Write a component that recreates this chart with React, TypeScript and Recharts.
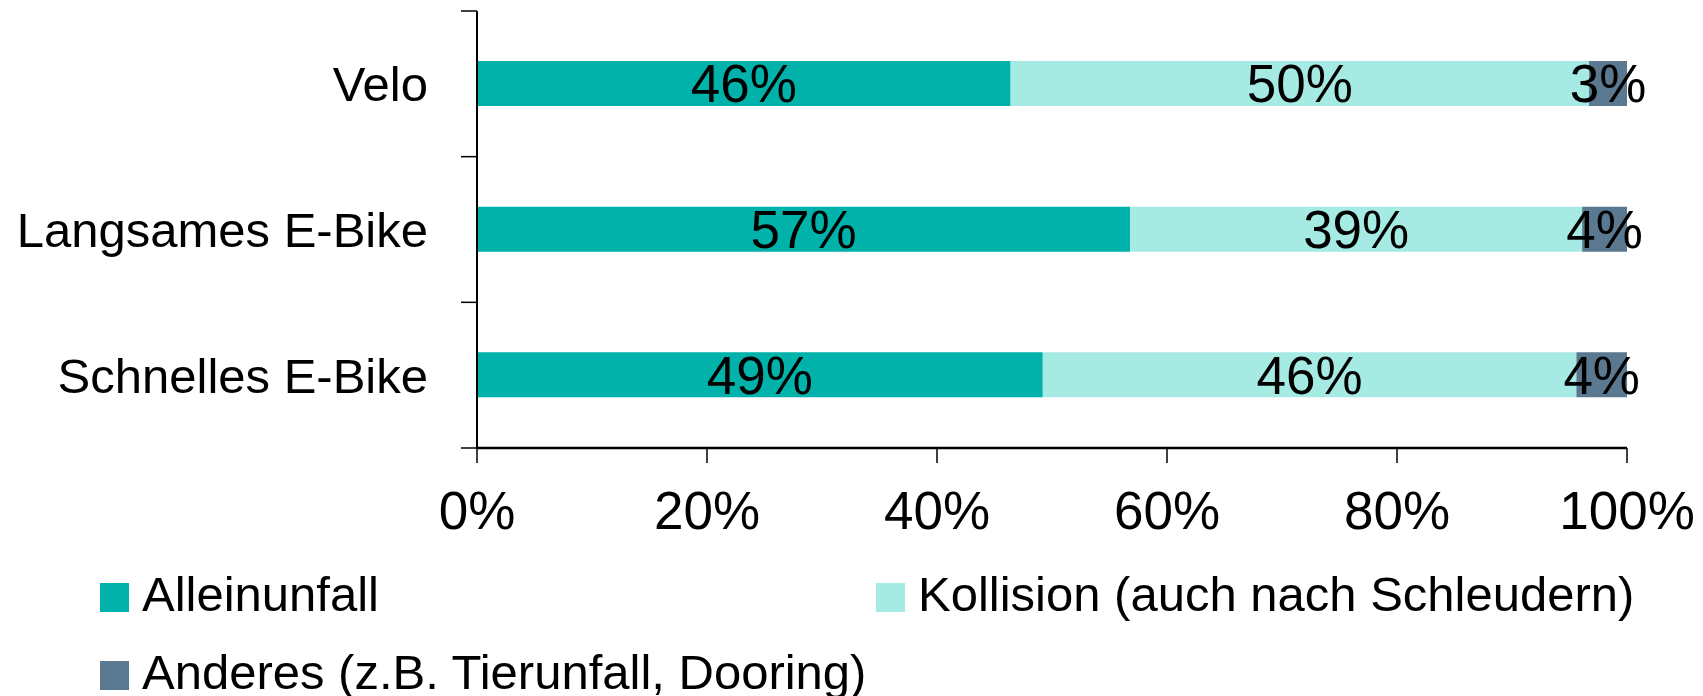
import React from "react";
import { BarChart, Bar, XAxis, YAxis, LabelList } from "recharts";

const categories = ["Velo", "Langsames E-Bike", "Schnelles E-Bike"];
const alleinunfall = [46.4, 56.8, 49.2];
const kollision = [50.3, 39.3, 46.4];
const anderes = [3.3, 3.9, 4.4];
const seriesNames = [
  "Alleinunfall",
  "Kollision (auch nach Schleudern)",
  "Anderes (z.B. Tierunfall, Dooring)",
];
const seriesKeys = ["a", "k", "o"];
const seriesColors = ["#00B2A9", "#A6EAE4", "#5B7891"];
const xTicks = [0, 20, 40, 60, 80, 100];

const data = categories.map((c, i) => ({
  name: c,
  a: alleinunfall[i],
  k: kollision[i],
  o: anderes[i],
}));

const FONT = "'Liberation Sans', Arial, sans-serif";

const YTick = (props: any) => {
  const { x, y, payload, index } = props;
  const half = payload && payload.offset ? payload.offset : 72.8;
  const axisX = x + 49;
  const n = categories.length;
  return (
    <g>
      <line x1={axisX - 16} x2={axisX} y1={y - half} y2={y - half} stroke="#000" strokeWidth={1.5} />
      {index === n - 1 && (
        <line x1={axisX - 16} x2={axisX} y1={y + half} y2={y + half} stroke="#000" strokeWidth={1.5} />
      )}
      <text x={x} y={y} dy="0.355em" textAnchor="end" fontSize={49} fontFamily={FONT} fill="#000">
        {payload.value}
      </text>
    </g>
  );
};

const fmt = (v: any) => `${Math.round(Number(v))}%`;

export default function App() {
  return (
    <div style={{ position: "absolute", left: 0, top: 0, width: 1703, height: 696, background: "#fff", overflow: "hidden" }}>
      <BarChart
        width={1703}
        height={696}
        data={data}
        layout="vertical"
        margin={{ top: 11, right: 76, bottom: 0, left: 0 }}
        barCategoryGap={0}
      >
        <XAxis
          type="number"
          domain={[0, 100]}
          ticks={xTicks}
          tickFormatter={(v: number) => `${v}%`}
          height={248}
          tickSize={15}
          tickMargin={28}
          axisLine={{ stroke: "#000", strokeWidth: 2.5 }}
          tickLine={{ stroke: "#000", strokeWidth: 1.5 }}
          tick={{ fill: "#000", fontSize: 53, fontFamily: FONT }}
          interval={0}
        />
        <YAxis
          type="category"
          dataKey="name"
          width={477}
          tickSize={16}
          tickMargin={33}
          tickLine={false}
          axisLine={{ stroke: "#000", strokeWidth: 2 }}
          tick={<YTick />}
          interval={0}
        />
        {seriesKeys.map((k, i) => (
          <Bar
            key={k}
            dataKey={k}
            name={seriesNames[i]}
            stackId="s"
            fill={seriesColors[i]}
            barSize={45}
            isAnimationActive={false}
          >
            <LabelList
              dataKey={k}
              position="center"
              formatter={fmt}
              fill="#000"
              fontSize={53}
              fontFamily={FONT}
            />
          </Bar>
        ))}
      </BarChart>
      {seriesNames.map((n, i) => {
        const left = i === 1 ? 876 : 100;
        const top = i === 2 ? 661 : 583;
        return (
          <div
            key={n}
            style={{
              position: "absolute",
              left,
              top,
              height: 29,
              display: "flex",
              alignItems: "center",
              whiteSpace: "nowrap",
              fontFamily: FONT,
              fontSize: 49,
              color: "#000",
            }}
          >
            <span style={{ display: "inline-block", width: 29, height: 29, background: seriesColors[i], marginRight: 13 }} />
            <span style={{ lineHeight: "29px", position: "relative", top: -3 }}>{n}</span>
          </div>
        );
      })}
    </div>
  );
}
